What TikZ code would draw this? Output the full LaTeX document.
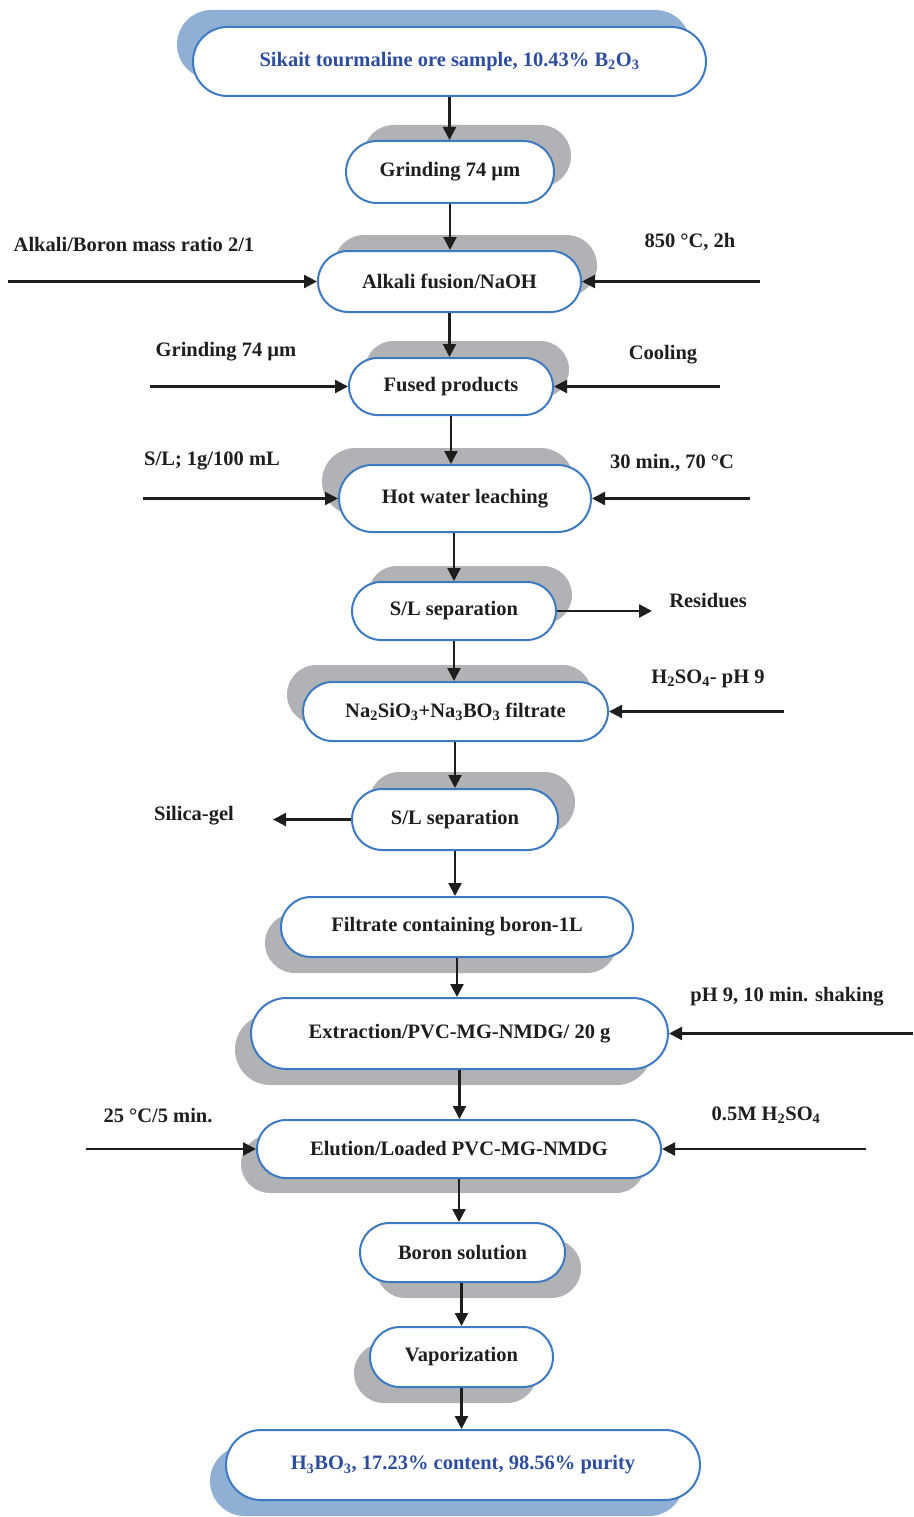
\documentclass[tikz,border=0pt]{standalone}
\usepackage{fontspec}
\setmainfont{Liberation Serif}
\usetikzlibrary{arrows.meta,shapes.misc,shadows}
\definecolor{bord}{RGB}{62,122,194}
\definecolor{bluetxt}{RGB}{45,78,160}
\definecolor{blueshadow}{RGB}{143,176,212}
\definecolor{grayshadow}{RGB}{176,178,181}
\definecolor{txt}{RGB}{30,30,30}
\newcommand{\sbs}[1]{\textsubscript{#1}}
\tikzset{
  stadium/.style={rounded rectangle, draw=bord, line width=2pt, fill=white,
    inner sep=0pt, font=\fontsize{20.5}{24}\selectfont\bfseries, text=txt},
  endbox/.style={stadium, text=bluetxt},
  gsh/.style 2 args={general shadow={fill=grayshadow, shadow xshift=#1pt, shadow yshift=#2pt}},
  bsh/.style 2 args={general shadow={fill=blueshadow, shadow xshift=#1pt, shadow yshift=#2pt}},
  arr/.style={line width=2.3pt, draw=txt, -{Triangle[length=13pt,width=13pt]}},
  lbl/.style={font=\fontsize{20.5}{24}\selectfont\bfseries, text=txt, inner sep=0pt,
    text height=14pt, text depth=4pt}
}
\begin{document}
\begin{tikzpicture}[x=1pt,y=-1pt]
\fill[white] (0,0) rectangle (913,1517);
\useasboundingbox (0,0) rectangle (913,1517);

% main nodes
\node[endbox, bsh={-16}{17}, minimum width=513pt, minimum height=69pt] (n1) at (449.5,61.5)
  {Sikait tourmaline ore sample, 10.43\% B\sbs{2}O\sbs{3}};
\node[stadium, gsh={17}{16}, minimum width=208pt, minimum height=62pt] (n2) at (450,172) {Grinding 74 µm};
\node[stadium, gsh={16}{16}, minimum width=263pt, minimum height=61pt] (n3) at (449.5,281.5) {Alkali fusion/NaOH};
\node[stadium, gsh={16}{17}, minimum width=204pt, minimum height=57pt] (n4) at (451,386.5) {Fused products};
\node[stadium, gsh={-17}{17}, minimum width=252pt, minimum height=67pt] (n5) at (465,498.5) {Hot water leaching};
\node[stadium, gsh={16}{16}, minimum width=204pt, minimum height=58pt] (n6) at (454,611) {S/L separation};
\node[stadium, gsh={-16}{17}, minimum width=305pt, minimum height=59pt] (n7) at (455.5,711.5)
  {Na\sbs{2}SiO\sbs{3}+Na\sbs{3}BO\sbs{3} filtrate};
\node[stadium, gsh={17}{17}, minimum width=206pt, minimum height=61pt] (n8) at (455,819.5) {S/L separation};
\node[stadium, gsh={-16}{-16}, minimum width=352pt, minimum height=60pt] (n9) at (457,927) {Filtrate containing boron-1L};
\node[stadium, gsh={-16}{-16}, minimum width=417pt, minimum height=71pt] (n10) at (459.5,1033.5) {Extraction/PVC-MG-NMDG/ 20 g};
\node[stadium, gsh={-16}{-15}, minimum width=404pt, minimum height=58pt] (n11) at (459,1149) {Elution/Loaded PVC-MG-NMDG};
\node[stadium, gsh={16}{-16}, minimum width=205pt, minimum height=59pt] (n12) at (462.5,1252.5) {Boron solution};
\node[stadium, gsh={-16}{-16}, minimum width=183pt, minimum height=60pt] (n13) at (461.5,1357) {Vaporization};
\node[endbox, bsh={-16}{-16}, minimum width=474pt, minimum height=70pt] (n14) at (463,1465)
  {H\sbs{3}BO\sbs{3}, 17.23\% content, 98.56\% purity};

% vertical flow
\draw[arr] (n1.south) -- (n1.south |- n2.north);
\draw[arr] (n2.south) -- (n2.south |- n3.north);
\draw[arr] (n3.south) -- (n3.south |- n4.north);
\draw[arr] (n4.south) -- (n4.south |- n5.north);
\draw[arr] (n6.north |- n5.south) -- (n6.north);
\draw[arr] (n6.south) -- (n6.south |- n7.north);
\draw[arr] (n8.north |- n7.south) -- (n8.north);
\draw[arr] (n8.south) -- (n8.south |- n9.north);
\draw[arr] (n9.south) -- (n9.south |- n10.north);
\draw[arr] (n10.south) -- (n10.south |- n11.north);
\draw[arr] (n11.south) -- (n11.south |- n12.north);
\draw[arr] (n13.north |- n12.south) -- (n13.north);
\draw[arr] (n13.south) -- (n13.south |- n14.north);

% side labels
\node[lbl] (l3a) at (134,246) {Alkali/Boron mass ratio 2/1};
\node[lbl] (l3b) at (690,242) {850 °C, 2h};
\node[lbl] (l4a) at (226,351) {Grinding 74 µm};
\node[lbl] (l4b) at (663,354) {Cooling};
\node[lbl] (l5a) at (212,460) {S/L; 1g/100 mL};
\node[lbl] (l5b) at (672,463) {30 min., 70 °C};
\node[lbl] (l6)  at (708,602) {Residues};
\node[lbl] (l7)  at (708,678) {H\sbs{2}SO\sbs{4}- pH 9};
\node[lbl] (l8)  at (194,815) {Silica-gel};
\node[lbl] (l10) at (787,996) {pH 9, 10 min. shaking};
\node[lbl] (l11a) at (158,1117) {25 °C/5 min.};
\node[lbl] (l11b) at (766,1115) {0.5M H\sbs{2}SO\sbs{4}};

% side arrows
\coordinate (c3a) at (8,281.5);
\coordinate (c3b) at (760,281.5);
\coordinate (c4a) at (150,386.5);
\coordinate (c4b) at (720,386.5);
\coordinate (c5a) at (143,498.5);
\coordinate (c5b) at (750,498.5);
\coordinate (c6)  at (652,611);
\coordinate (c7)  at (784,711.5);
\coordinate (c8)  at (273,819.5);
\coordinate (c10) at (913,1033.5);
\coordinate (c11a) at (86,1149);
\coordinate (c11b) at (866,1149);
\draw[arr] (c3a) -- (n3.west);
\draw[arr] (c3b) -- (n3.east);
\draw[arr] (c4a) -- (n4.west);
\draw[arr] (c4b) -- (n4.east);
\draw[arr] (c5a) -- (n5.west);
\draw[arr] (c5b) -- (n5.east);
\draw[arr] (n6.east) -- (c6);
\draw[arr] (c7) -- (n7.east);
\draw[arr] (n8.west) -- (c8);
\draw[arr] (c10) -- (n10.east);
\draw[arr] (c11a) -- (n11.west);
\draw[arr] (c11b) -- (n11.east);
\end{tikzpicture}
\end{document}
